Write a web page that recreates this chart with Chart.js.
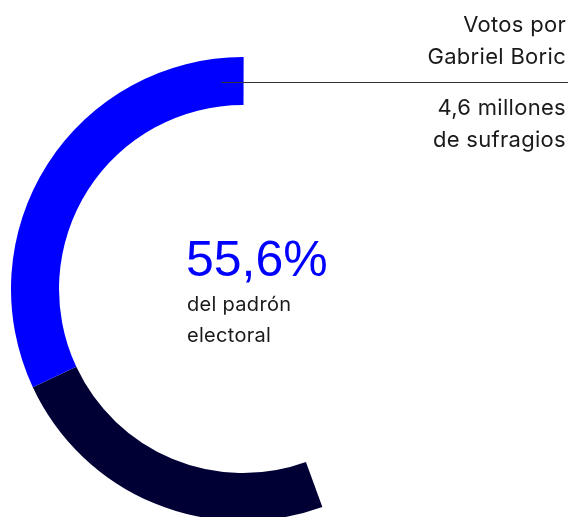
<!DOCTYPE html>
<html>
<head>
<meta charset="utf-8">
<script src="https://cdn.jsdelivr.net/npm/chart.js@4"></script>
<style>
  html, body { margin: 0; padding: 0; background: #fff; }
  #page { position: relative; width: 571px; height: 517px; overflow: hidden; }
  #ring { position: absolute; left: 11px; top: 57px; }
  .txt { position: absolute; font-family: Inter, Roboto, sans-serif; color: #1a1a1a; white-space: nowrap; }
  .right { right: 5px; text-align: right; font-size: 22px; line-height: 32px; letter-spacing: 0.3px; }
  #big { left: 186px; top: 229px; font-family: "Liberation Sans", Arial, sans-serif; font-size: 50px; color: #0000ff; line-height: 60px; }
  #sub { left: 187px; top: 289px; font-size: 20px; line-height: 31px; letter-spacing: 0.3px; }
  #rule { position: absolute; left: 221px; top: 82px; width: 347px; height: 0; border-top: 1px solid #333; }
</style>
</head>
<body>
<div id="page">
  <canvas id="ring" width="464" height="464"></canvas>
  <div id="rule"></div>
  <div class="txt right" style="top:8px">Votos por<br>Gabriel Boric</div>
  <div class="txt right" style="top:91px">4,6 millones<br>de sufragios</div>
  <div class="txt" id="big">55,6%</div>
  <div class="txt" id="sub">del padrón<br>electoral</div>
</div>
<script>
// shares of the padrón, in %, drawn clockwise from the end of the arc
const segments = ['Otros votantes', 'Gabriel Boric', 'No votó'];
const shares = [23.6, 32.0, 44.4];
const colors = ['#000035', '#0000ff', 'rgba(0,0,0,0)'];

const ctx = document.getElementById('ring').getContext('2d');
new Chart(ctx, {
    type: 'doughnut',
    data: {
        labels: segments,
        datasets: [{
            data: shares,
            backgroundColor: colors,
            borderWidth: 0,
        }]
    },
    options: {
        responsive: false,
        animation: false,
        rotation: 160,
        cutout: '79.3%',
        plugins: {
            legend: { display: false },
            tooltip: { enabled: false },
        }
    }
});
</script>
</body>
</html>
